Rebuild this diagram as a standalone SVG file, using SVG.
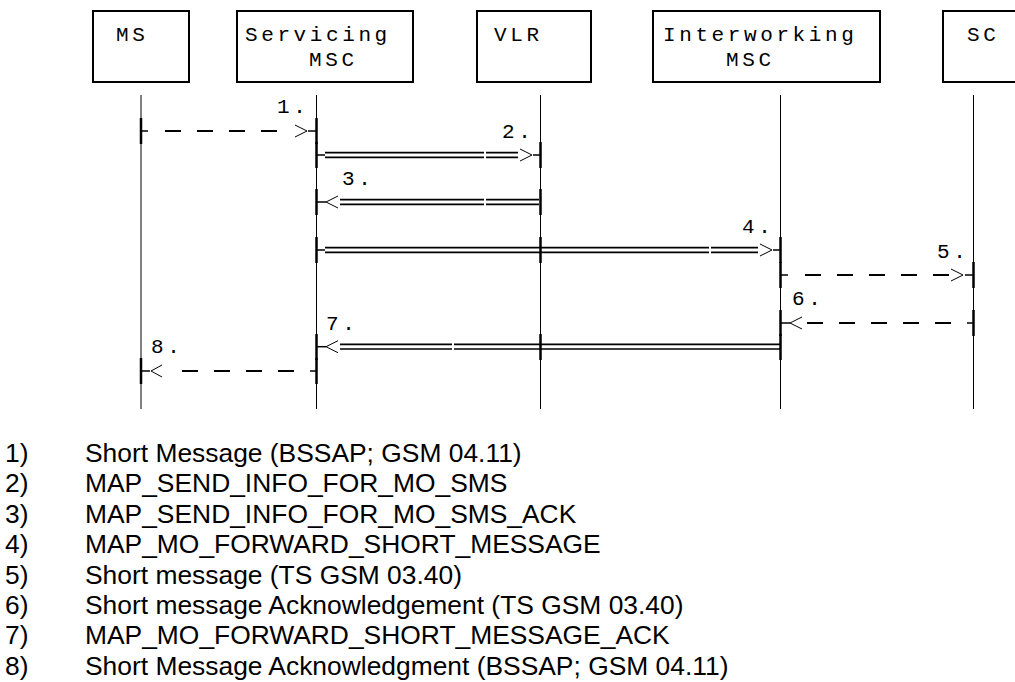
<svg xmlns="http://www.w3.org/2000/svg" width="1015" height="682" viewBox="0 0 1015 682">
<style>
  .box { fill: none; stroke: #000; stroke-width: 2; }
  .lbl { font-family: "Liberation Mono", "Courier New", monospace; font-size: 21px; letter-spacing: 3.6px; fill: #000; }
  .life { stroke: #000; stroke-width: 1; fill: none; }
  .tick { stroke: #000; stroke-width: 2.5; fill: none; }
  .stub { stroke: #000; stroke-width: 1.5; fill: none; }
  .dash { stroke: #000; stroke-width: 2; fill: none; stroke-dasharray: 16 16; }
  .dbl { stroke: #000; stroke-width: 1.7; fill: none; }
  .head { stroke: #000; stroke-width: 1; fill: none; }
  .leg { font-family: "Liberation Sans", Arial, sans-serif; font-size: 26.4px; fill: #000; }
</style>
<rect width="1015" height="682" fill="#fff"/>

<g id="node-ms">
  <rect class="box" x="93" y="11" width="96" height="71"/>
  <text class="lbl" x="116" y="41">MS</text>
</g>
<g id="node-servicing-msc">
  <rect class="box" x="237" y="11" width="176" height="71"/>
  <text class="lbl" x="245" y="41">Servicing</text>
  <text class="lbl" x="309" y="66">MSC</text>
</g>
<g id="node-vlr">
  <rect class="box" x="477" y="11" width="114" height="71"/>
  <text class="lbl" x="494" y="41">VLR</text>
</g>
<g id="node-interworking-msc">
  <rect class="box" x="653" y="11" width="227" height="71"/>
  <text class="lbl" x="663" y="41">Interworking</text>
  <text class="lbl" x="726" y="66">MSC</text>
</g>
<g id="node-sc">
  <path class="box" d="M1016 11 H943 V82 H1016"/>
  <text class="lbl" x="967" y="41">SC</text>
</g>

<g id="lifelines">
  <line class="life" x1="141" y1="95" x2="141" y2="409"/>
  <line class="life" x1="316.5" y1="95" x2="316.5" y2="409"/>
  <line class="life" x1="540.5" y1="95" x2="540.5" y2="409"/>
  <line class="life" x1="780.5" y1="95" x2="780.5" y2="409"/>
  <line class="life" x1="973.5" y1="95" x2="973.5" y2="409"/>
</g>

<g id="connectors">
  <g id="msg1">
    <line class="tick" x1="141" y1="118" x2="141" y2="144"/>
    <line class="tick" x1="316.5" y1="118" x2="316.5" y2="144"/>
    <line class="stub" x1="141" y1="131" x2="148" y2="131"/>
    <line class="dash" x1="165" y1="131" x2="278" y2="131"/>
    <polyline class="head" points="295,125 307,131 295,137"/>
    <line class="stub" x1="308" y1="131" x2="316.5" y2="131"/>
    <text class="lbl" x="277" y="113">1.</text>
  </g>
  <g id="msg2">
    <line class="tick" x1="316.5" y1="142" x2="316.5" y2="168"/>
    <line class="tick" x1="540.5" y1="142" x2="540.5" y2="168"/>
    <line class="stub" x1="316.5" y1="155" x2="325" y2="155"/>
    <path class="dbl" d="M325 152.7 H484 M486 152.7 H518 M325 157.3 H484 M486 157.3 H518"/>
    <polyline class="head" points="520,149 532,155 520,161"/>
    <line class="stub" x1="533" y1="155" x2="540.5" y2="155"/>
    <text class="lbl" x="502" y="138">2.</text>
  </g>
  <g id="msg3">
    <line class="tick" x1="316.5" y1="189" x2="316.5" y2="215"/>
    <line class="tick" x1="540.5" y1="189" x2="540.5" y2="215"/>
    <line class="stub" x1="316.5" y1="202" x2="326" y2="202"/>
    <polyline class="head" points="338,196 326,202 338,208"/>
    <path class="dbl" d="M340 199.7 H484 M486 199.7 H539 M340 204.3 H484 M486 204.3 H539"/>
    <text class="lbl" x="342" y="185">3.</text>
  </g>
  <g id="msg4">
    <line class="tick" x1="316.5" y1="237" x2="316.5" y2="263"/>
    <line class="tick" x1="540.5" y1="237" x2="540.5" y2="263"/>
    <line class="tick" x1="780.5" y1="237" x2="780.5" y2="263"/>
    <line class="stub" x1="316.5" y1="250" x2="325" y2="250"/>
    <path class="dbl" d="M325 247.7 H709 M711 247.7 H758 M325 252.3 H709 M711 252.3 H758"/>
    <polyline class="head" points="760,244 772,250 760,256"/>
    <line class="stub" x1="773" y1="250" x2="780.5" y2="250"/>
    <text class="lbl" x="742" y="233">4.</text>
  </g>
  <g id="msg5">
    <line class="tick" x1="780.5" y1="262" x2="780.5" y2="288"/>
    <line class="tick" x1="973.5" y1="262" x2="973.5" y2="288"/>
    <line class="stub" x1="780.5" y1="275" x2="788" y2="275"/>
    <line class="dash" x1="805" y1="275" x2="949" y2="275"/>
    <polyline class="head" points="951,269 963,275 951,281"/>
    <line class="stub" x1="965" y1="275" x2="973.5" y2="275"/>
    <text class="lbl" x="937" y="258">5.</text>
  </g>
  <g id="msg6">
    <line class="tick" x1="780.5" y1="310" x2="780.5" y2="336"/>
    <line class="tick" x1="973.5" y1="310" x2="973.5" y2="336"/>
    <line class="stub" x1="780.5" y1="323" x2="790" y2="323"/>
    <polyline class="head" points="802,317 790,323 802,329"/>
    <line class="dash" x1="807" y1="323" x2="951" y2="323"/>
    <line class="stub" x1="967" y1="323" x2="973.5" y2="323"/>
    <text class="lbl" x="792" y="305">6.</text>
  </g>
  <g id="msg7">
    <line class="tick" x1="316.5" y1="334" x2="316.5" y2="360"/>
    <line class="tick" x1="540.5" y1="334" x2="540.5" y2="360"/>
    <line class="tick" x1="780.5" y1="334" x2="780.5" y2="360"/>
    <line class="stub" x1="316.5" y1="346.7" x2="326" y2="346.7"/>
    <polyline class="head" points="338,340.7 326,346.7 338,352.7"/>
    <path class="dbl" d="M340 344.4 H452 M454 344.4 H780 M340 349 H452 M454 349 H780"/>
    <text class="lbl" x="326" y="330">7.</text>
  </g>
  <g id="msg8">
    <line class="tick" x1="141" y1="358" x2="141" y2="384"/>
    <line class="tick" x1="316.5" y1="358" x2="316.5" y2="384"/>
    <line class="stub" x1="141" y1="371" x2="150" y2="371"/>
    <polyline class="head" points="162,365 151,371 162,377"/>
    <line class="dash" x1="182" y1="371" x2="294" y2="371"/>
    <line class="stub" x1="310" y1="371" x2="316.5" y2="371"/>
    <text class="lbl" x="151" y="353">8.</text>
  </g>
</g>

<g id="legend">
  <text class="leg" x="5" y="462">1)</text><text class="leg" x="85" y="462">Short Message (BSSAP; GSM 04.11)</text>
  <text class="leg" x="5" y="492.4">2)</text><text class="leg" x="85" y="492.4">MAP_SEND_INFO_FOR_MO_SMS</text>
  <text class="leg" x="5" y="522.8">3)</text><text class="leg" x="85" y="522.8">MAP_SEND_INFO_FOR_MO_SMS_ACK</text>
  <text class="leg" x="5" y="553.2">4)</text><text class="leg" x="85" y="553.2">MAP_MO_FORWARD_SHORT_MESSAGE</text>
  <text class="leg" x="5" y="583.6">5)</text><text class="leg" x="85" y="583.6">Short message (TS GSM 03.40)</text>
  <text class="leg" x="5" y="614">6)</text><text class="leg" x="85" y="614">Short message Acknowledgement (TS GSM 03.40)</text>
  <text class="leg" x="5" y="644.4">7)</text><text class="leg" x="85" y="644.4">MAP_MO_FORWARD_SHORT_MESSAGE_ACK</text>
  <text class="leg" x="5" y="674.8">8)</text><text class="leg" x="85" y="674.8">Short Message Acknowledgment (BSSAP; GSM 04.11)</text>
</g>
</svg>
